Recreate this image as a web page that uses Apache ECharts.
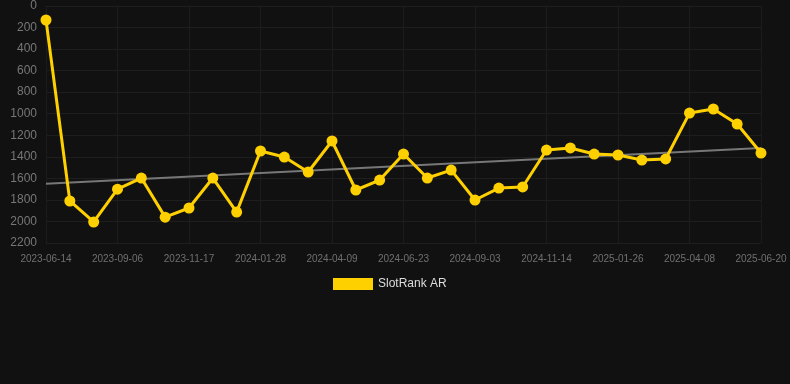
<!DOCTYPE html>
<html>
<head>
<meta charset="utf-8">
<script src="https://cdn.jsdelivr.net/npm/echarts@6/dist/echarts.min.js"></script>
<style>
  html, body { margin: 0; padding: 0; background: #111111; }
  #box1 { width: 790px; height: 384px; }
</style>
</head>
<body>
<div id="box1"></div>
<script>
// dates on the x axis (category)
var dates = [
  '2023-06-14', '2023-07-12', '2023-08-09', '2023-09-06', '2023-09-30', '2023-10-24',
  '2023-11-17', '2023-12-11', '2024-01-04', '2024-01-28', '2024-02-21', '2024-03-16',
  '2024-04-09', '2024-05-04', '2024-05-29', '2024-06-23', '2024-07-17', '2024-08-10',
  '2024-09-03', '2024-09-27', '2024-10-21', '2024-11-14', '2024-12-08', '2025-01-02',
  '2025-01-26', '2025-02-19', '2025-03-15', '2025-04-08', '2025-05-02', '2025-05-26',
  '2025-06-20'
];
// rank values
var ranks = [
  130, 1810, 2005, 1700, 1597, 1960, 1875, 1597, 1913, 1346, 1402,
  1541, 1253, 1708, 1616, 1374, 1597, 1523, 1801, 1690, 1680,
  1337, 1318, 1374, 1383, 1430, 1420, 994, 956, 1096, 1365
];
// trend line, first and last point
var trendEnds = [1650, 1318];

var trendData = dates.map(function(d, i) {
  if (i === 0) return trendEnds[0];
  if (i === dates.length - 1) return trendEnds[1];
  return null;
});

var chart = echarts.init(document.getElementById('box1'));
var option = {
  backgroundColor: '#111111',
  animation: false,
  legend: {
    data: ['SlotRank AR'],
    top: 278,
    left: 333,
    padding: 0,
    itemWidth: 40,
    itemHeight: 12,
    icon: 'rect',
    textStyle: { color: '#dddddd', fontSize: 12, fontFamily: 'Liberation Sans' }
  },
  grid: {
    left: 46,
    right: 29,
    top: 6,
    bottom: 141
  },
  xAxis: {
    type: 'category',
    data: dates,
    boundaryGap: false,
    axisLine: { show: true, lineStyle: { color: '#1e1e1e' } },
    axisTick: { show: false },
    axisLabel: {
      interval: 2,
      color: '#707070',
      fontSize: 10,
      fontFamily: 'Liberation Sans',
      margin: 11
    },
    splitLine: {
      show: true,
      interval: 2,
      lineStyle: { color: '#1c1c1c', width: 1 }
    }
  },
  yAxis: {
    type: 'value',
    inverse: true,
    min: 0,
    max: 2200,
    interval: 200,
    axisLine: { show: false },
    axisTick: { show: false },
    axisLabel: {
      color: '#777777',
      fontSize: 12,
      fontFamily: 'Liberation Sans',
      margin: 9,
      formatter: function(value) {
        return String(value);
      }
    },
    splitLine: { lineStyle: { color: '#1e1e1e', width: 1 } }
  },
  series: [
    {
      name: 'SlotRank AR',
      type: 'line',
      data: ranks,
      symbol: 'circle',
      symbolSize: 11,
      itemStyle: { color: '#ffd000' },
      lineStyle: { color: '#ffd000', width: 3 },
      z: 3
    },
    {
      name: 'trend',
      type: 'line',
      data: trendData,
      connectNulls: true,
      symbol: 'none',
      lineStyle: { color: '#777777', width: 2 },
      z: 2
    }
  ]
};
chart.setOption(option);
</script>
</body>
</html>
